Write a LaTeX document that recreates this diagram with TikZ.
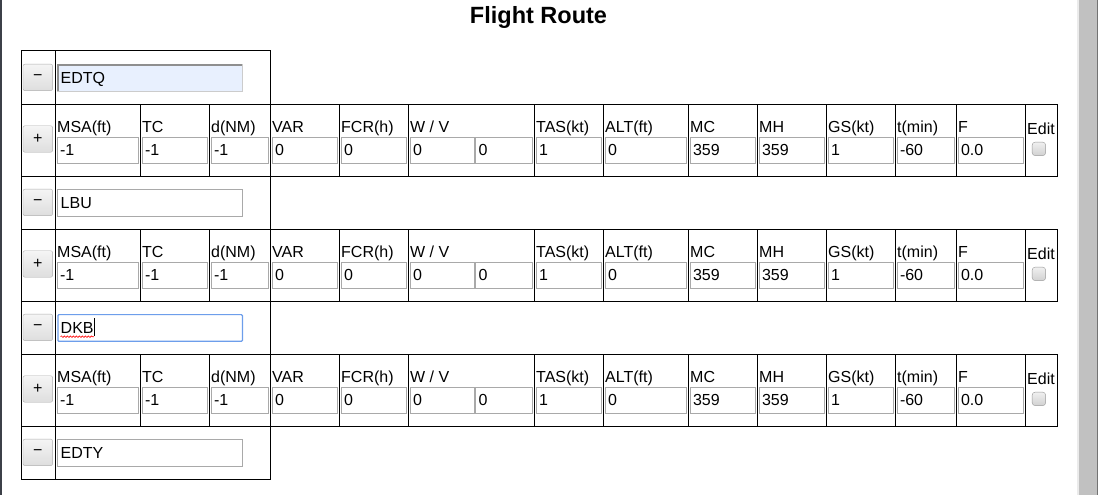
\documentclass[tikz,border=0pt]{standalone}
\usepackage{fontspec}
\setmainfont{Liberation Sans}
\usetikzlibrary{positioning,decorations.pathmorphing}
\definecolor{fieldgray}{HTML}{A9A9A9}
\definecolor{btnline}{HTML}{ADADAD}
\definecolor{autofill}{HTML}{E8F0FE}
\definecolor{focus}{HTML}{6D9EEB}
\definecolor{barfill}{HTML}{C1C1C1}
\definecolor{edge}{HTML}{3C4048}

% waypoint row: top, name, waypoint, extra field style
\newcommand\wprow[4]{%
  \draw[grid] (21,#1) rectangle (270,#1+53) (55,#1) -- (55,#1+53);
  \node[btn] (#2-del) at (37.8,#1+26.4) {−};
  \node[field,minimum width=184.5,minimum height=26.7,#4] (#2) at (57.3,#1+13) {};
  \node[val] (#2-txt) at (60.5,#1+32) {#3};
}
% leg row: top, name
\newcommand\legrow[2]{%
  \draw[grid] (21,#1) rectangle (1057,#1+72);
  \foreach \x in {55,140,209,270,339,408,534,603,688,757,826,895,956,1025}
    \draw[grid] (\x,#1) -- (\x,#1+72);
  \node[btn] (#2-add) at (37.8,#1+35) {+};
  \foreach \xa/\xb/\head/\entry [count=\i] in {55/140/MSA(ft)/-1,140/209/TC/-1,209/270/d(NM)/-1,
      270/339/VAR/0,339/408/FCR(h)/0,534/603/TAS(kt)/1,603/688/ALT(ft)/0,688/757/MC/359,
      757/826/MH/359,826/895/GS(kt)/1,895/956/t(min)/-60,956/1025/F/0.0}{
    \node[lbl] (#2-h\i) at (\xa+2,#1+28.5) {\head};
    \node[field,minimum width=\xb-\xa-4.5] (#2-f\i) at (\xa+2.3,#1+32.5) {};
    \node[val] (#2-v\i) at (\xa+4.8,#1+51) {\entry};
  }
  % wind, two fields in one cell
  \node[lbl] (#2-wv) at (410,#1+28.5) {W / V};
  \node[field,minimum width=64] (#2-wind1) at (410,#1+32.5) {};
  \node[field,minimum width=56.4] (#2-wind2) at (475.3,#1+32.5) {};
  \node[val] at (413,#1+51) {0};
  \node[val] at (478.3,#1+51) {0};
  % edit flag
  \node[lbl,anchor=base] (#2-edit) at (1041,#1+30) {Edit};
  \node[box] (#2-chk) at (1038.9,#1+44.9) {};
}

\begin{document}
\begin{tikzpicture}[x=1pt,y=-1pt,
    grid/.style={line width=1pt},
    btn/.style={draw=btnline,rounded corners=2pt,top color=white!96!black,bottom color=white!87!black,
      minimum width=29.7,minimum height=26.5,inner sep=0,font=\fontsize{16}{16}\selectfont},
    field/.style={draw=fieldgray,fill=white,anchor=north west,minimum height=26,inner sep=0},
    lbl/.style={anchor=base west,inner sep=0,font=\fontsize{16}{16}\selectfont},
    val/.style={lbl},
    box/.style={draw=white!60!black,rounded corners=3pt,top color=white!94!black,bottom color=white!82!black,
      minimum size=13.5,inner sep=0}]
  \useasboundingbox (0,0) rectangle (1099,495);
  \fill[edge] (0,0) rectangle (2,495);
  \fill[white!92!black] (1077,0) rectangle (1079,495);
  \fill[barfill] (1079,0) rectangle (1097,495);
  \fill[white!45!black] (1097,0) rectangle (1098,495);

  \node[anchor=base,inner sep=0,font=\bfseries\fontsize{23.5}{23.5}\selectfont] (title) at (538.5,24) {Flight Route};

  \wprow{51}{edtq}{EDTQ}{fill=autofill,draw=white!80!black}
  \draw[line width=2pt,white!56!black] ([xshift=1pt]edtq.south west) -- ([xshift=1pt,yshift=-1pt]edtq.north west)
    -- ([yshift=-1pt]edtq.north east);
  \legrow{104}{leg1}
  \wprow{176}{lbu}{LBU}{}
  \legrow{229}{leg2}
  \wprow{301}{dkb}{DKB}{draw=focus,line width=1.2pt,rounded corners=1pt}
  \draw[red,line width=0.6pt,decorate,decoration={snake,amplitude=0.8pt,segment length=3pt}]
    ([yshift=-3.5pt]dkb-txt.south west) -- ([yshift=-3.5pt]dkb-txt.south east);
  \draw[line width=1pt] ([xshift=1pt,yshift=-3pt]dkb-txt.base east) -- ++(0,-18);
  \legrow{354}{leg3}
  \wprow{426}{edty}{EDTY}{}
\end{tikzpicture}
\end{document}
